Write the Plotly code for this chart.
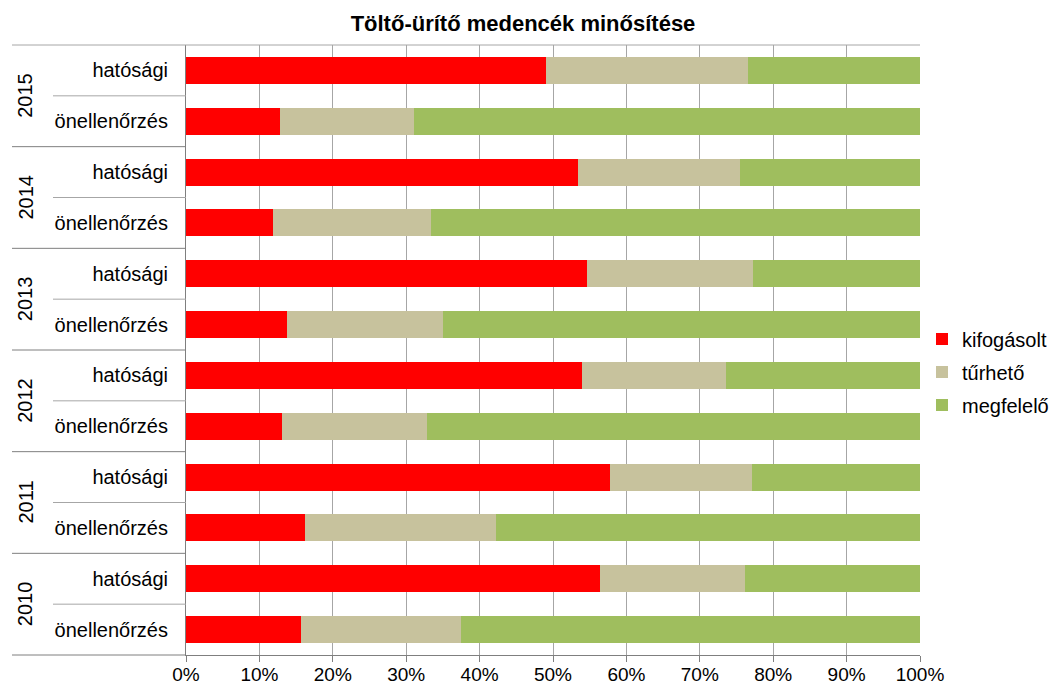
import plotly.graph_objects as go

# Years from top to bottom and the two inspection types within each year
years = ["2015", "2014", "2013", "2012", "2011", "2010"]
types = ["hatósági", "önellenőrzés"]

# Shares (%) per year, official inspections (hatósági)
kifogasolt_hatosagi = [49.1, 53.4, 54.6, 54.0, 57.7, 56.4]
turheto_hatosagi = [27.4, 22.1, 22.6, 19.6, 19.4, 19.7]
megfelelo_hatosagi = [23.5, 24.5, 22.8, 26.4, 22.9, 23.9]

# Shares (%) per year, self-monitoring (önellenőrzés)
kifogasolt_onell = [12.8, 11.9, 13.7, 13.1, 16.2, 15.6]
turheto_onell = [18.2, 21.5, 21.3, 19.8, 26.0, 21.9]
megfelelo_onell = [69.0, 66.6, 65.0, 67.1, 57.8, 62.5]

series = [
    ("kifogásolt", "#FF0000", kifogasolt_hatosagi, kifogasolt_onell),
    ("tűrhető", "#C7C29D", turheto_hatosagi, turheto_onell),
    ("megfelelő", "#9FBE5E", megfelelo_hatosagi, megfelelo_onell),
]

n_rows = len(years) * len(types)

# Row positions: top row has the highest y value
row_pos = []
row_text = []
for i, _ in enumerate(years):
    for j, t in enumerate(types):
        row_pos.append(n_rows - 1 - (2 * i + j))
        row_text.append(t)

FONT = "Liberation Sans, Arial, sans-serif"
W, H = 1050, 686
ML, MR, MT, MB = 186, 130, 45, 31
plot_w = W - ML - MR
plot_h = H - MT - MB


def px_x(px):
    return (px - ML) / plot_w


def row_edge(v):
    # paper y of a data-space row boundary (axis range is [-0.5, n_rows-0.5])
    return (v + 0.5) / n_rows


fig = go.Figure()
for k, (name, color, hat_vals, onell_vals) in enumerate(series):
    xs, ys = [], []
    for i in range(len(years)):
        xs += [hat_vals[i], onell_vals[i]]
        ys += [row_pos[2 * i], row_pos[2 * i + 1]]
    fig.add_trace(go.Bar(
        x=xs, y=ys, orientation="h", name=name,
        marker=dict(color=color, line=dict(width=0)),
        width=0.53, legendgroup=name,
        hovertemplate="%{x:.1f}%<extra>" + name + "</extra>",
    ))

shapes = []
line_dark = "#7F7F7F"
line_light = "#A6A6A6"
# top border across the label area and plot
shapes.append(dict(type="line", xref="paper", yref="paper",
                   x0=px_x(12), x1=1, y0=1, y1=1,
                   line=dict(color=line_light, width=1)))
# bottom border under the label area
shapes.append(dict(type="line", xref="paper", yref="paper",
                   x0=px_x(12), x1=0, y0=0, y1=0,
                   line=dict(color=line_dark, width=1)))
# dividers between years
for k in range(1, len(years)):
    y = row_edge(n_rows - 0.5 - 2 * k)
    shapes.append(dict(type="line", xref="paper", yref="paper",
                       x0=px_x(12), x1=0, y0=y, y1=y,
                       line=dict(color=line_dark, width=1)))
# dividers between the two types within a year
for k in range(len(years)):
    y = row_edge(n_rows - 1.5 - 2 * k)
    shapes.append(dict(type="line", xref="paper", yref="paper",
                       x0=px_x(53), x1=0, y0=y, y1=y,
                       line=dict(color=line_light, width=1)))

annotations = []
for k, yr in enumerate(years):
    y = row_edge(n_rows - 1.5 - 2 * k)
    annotations.append(dict(
        text=yr, xref="paper", yref="paper", x=px_x(25), y=y,
        textangle=-90, showarrow=False, xanchor="center", yanchor="middle",
        font=dict(family=FONT, size=20, color="#000000"),
    ))

fig.update_layout(
    width=W, height=H,
    margin=dict(l=ML, r=MR, t=MT, b=MB, autoexpand=False),
    paper_bgcolor="white", plot_bgcolor="white",
    barmode="stack",
    font=dict(family=FONT, size=20, color="#000000"),
    title=dict(
        text="<b>Töltő-ürítő medencék minősítése</b>",
        x=523 / W, xanchor="center", y=1 - 23 / H, yanchor="middle",
        font=dict(family=FONT, size=22, color="#000000"),
    ),
    xaxis=dict(
        range=[0, 100], dtick=10, ticksuffix="%",
        showgrid=True, gridcolor="#A6A6A6", gridwidth=1,
        showline=True, linecolor=line_dark, linewidth=1,
        ticks="outside", ticklen=6, tickcolor=line_dark,
        ticklabelstandoff=-4,
        zeroline=False, fixedrange=True,
        tickfont=dict(family=FONT, size=19, color="#000000"),
    ),
    yaxis=dict(
        range=[-0.5, n_rows - 0.5],
        tickmode="array", tickvals=row_pos, ticktext=row_text,
        showgrid=False, zeroline=False,
        showline=True, linecolor=line_dark, linewidth=1,
        ticks="", ticklabelstandoff=13,
        tickfont=dict(family=FONT, size=20, color="#000000"),
        fixedrange=True,
    ),
    legend=dict(
        x=px_x(922), xanchor="left", y=(H - MB - 372) / plot_h, yanchor="middle",
        traceorder="grouped", tracegroupgap=4,
        font=dict(family=FONT, size=20, color="#000000"),
        itemwidth=30, bgcolor="rgba(0,0,0,0)",
    ),
    shapes=shapes,
    annotations=annotations,
    showlegend=True,
)

fig.write_html("out.html")
